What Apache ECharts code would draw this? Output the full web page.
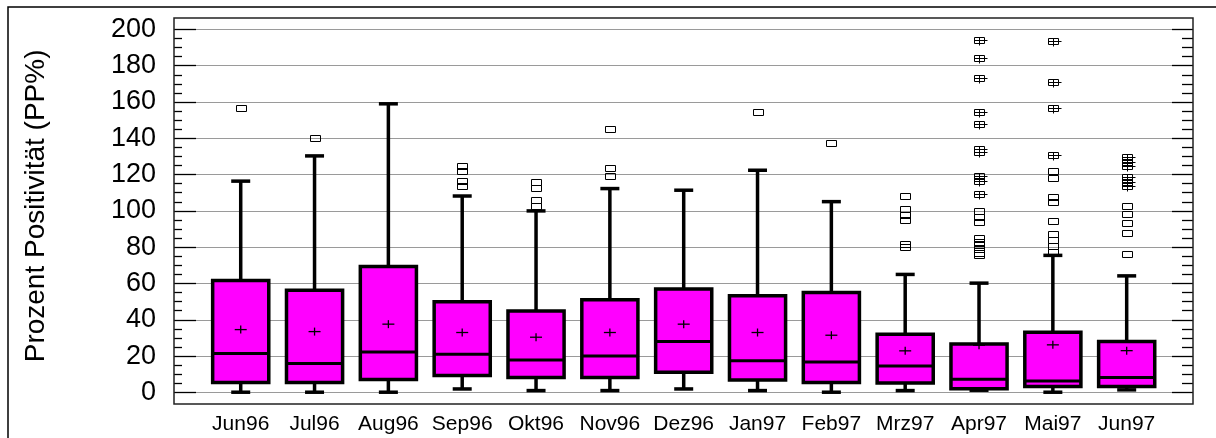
<!DOCTYPE html>
<html>
<head>
<meta charset="utf-8">
<script src="https://cdn.jsdelivr.net/npm/echarts@6/dist/echarts.min.js"></script>
<style>
  html, body { margin: 0; padding: 0; background: #fff; }
  #chart { width: 1216px; height: 438px; }
</style>
</head>
<body>
<div id="chart"></div>
<script>
// Monthly distribution of PP% values (box = quartiles, whiskers, + = mean)
const months = ['Jun96', 'Jul96', 'Aug96', 'Sep96', 'Okt96', 'Nov96', 'Dez96',
                'Jan97', 'Feb97', 'Mrz97', 'Apr97', 'Mai97', 'Jun97'];

const whiskerLow  = [0.1, 0.1, 0.1, 1.9, 1.0, 1.0, 1.9, 1.0, 0.1, 1.0, 1.2, 0.1, 1.4];
const lowerQuart  = [5.4, 5.4, 7.1, 9.3, 8.2, 8.2, 11.1, 6.9, 5.4, 5.2, 2.0, 3.2, 3.2];
const medianVal   = [21.4, 15.9, 22.3, 21.0, 17.9, 20.1, 28.0, 17.4, 16.8, 14.6, 7.2, 6.3, 8.2];
const upperQuart  = [61.6, 56.3, 69.3, 49.9, 44.9, 51.1, 57.0, 53.2, 55.0, 32.1, 26.6, 33.2, 28.0];
const whiskerHigh = [116.4, 130.3, 159.0, 108.2, 100.0, 112.3, 111.4, 122.4, 105.1, 65.0, 60.2, 75.5, 64.2];
const meanVal     = [34.6, 33.5, 37.6, 33.0, 30.4, 33.0, 37.6, 33.0, 31.5, 22.9, 26.0, 26.2, 23.0];

// Outliers beyond the whiskers
const outliers = [
  [156.5],
  [140.2],
  [],
  [124.5, 122.0, 116.5, 113.5],
  [116.0, 112.5, 106.0, 102.5],
  [145.0, 123.5, 119.5],
  [],
  [154.4],
  [137.3],
  [108.0, 101.0, 98.0, 95.0, 82.0, 80.0],
  [100.0, 96.5, 94.0, 85.0, 83.0, 81.0, 79.0, 77.0, 75.5],
  [122.0, 118.0, 107.5, 105.0, 94.5, 87.0, 84.0, 80.5, 77.5],
  [102.5, 98.5, 93.5, 88.0, 76.0]
];
// Extreme outliers (square with cross)
const farOutliers = [
  [], [], [], [], [], [], [], [], [], [],
  [194.0, 184.0, 173.0, 154.7, 147.8, 134.0, 132.5, 119.0, 116.5, 109.5],
  [193.5, 171.0, 156.5, 131.0],
  [129.5, 127.0, 125.0, 118.5, 116.0, 113.5]
];

const yMin = 0, yMax = 200, yStep = 20;
const axisTitle = 'Prozent Positivität (PP%)';
const FONT = '"Liberation Sans", Arial, Helvetica, sans-serif';

const boxData = months.map((m, i) =>
  [i, whiskerLow[i], lowerQuart[i], medianVal[i], upperQuart[i], whiskerHigh[i], meanVal[i]]);

const outlierData = [];
months.forEach((m, i) => {
  outliers[i].forEach(v => outlierData.push([i, v, 0]));
  farOutliers[i].forEach(v => outlierData.push([i, v, 1]));
});

const blk = { stroke: '#000', lineWidth: 3.5 };

function renderBox(params, api) {
  const i = api.value(0);
  const lo = api.coord([i, api.value(1)]);
  const b1 = api.coord([i, api.value(2)]);
  const md = api.coord([i, api.value(3)]);
  const b3 = api.coord([i, api.value(4)]);
  const hi = api.coord([i, api.value(5)]);
  const mn = api.coord([i, api.value(6)]);
  const band = api.size([1, 0])[0];
  const half = band * 0.76 / 2;
  const cap = 9.5;
  const x = lo[0];
  return {
    type: 'group',
    children: [
      { type: 'line', shape: { x1: x, y1: hi[1], x2: x, y2: b3[1] }, style: blk },
      { type: 'line', shape: { x1: x, y1: lo[1], x2: x, y2: b1[1] }, style: blk },
      { type: 'line', shape: { x1: x - cap, y1: hi[1], x2: x + cap, y2: hi[1] }, style: blk },
      { type: 'line', shape: { x1: x - cap, y1: lo[1], x2: x + cap, y2: lo[1] }, style: blk },
      { type: 'rect', shape: { x: x - half, y: b3[1], width: half * 2, height: b1[1] - b3[1] },
        style: { fill: '#ff00ff', stroke: '#000', lineWidth: 3.5 } },
      { type: 'line', shape: { x1: x - half, y1: md[1], x2: x + half + 1, y2: md[1] }, style: { stroke: '#000', lineWidth: 3 } },
      { type: 'line', shape: { x1: x - 6, y1: mn[1], x2: x + 6, y2: mn[1] }, style: { stroke: '#000', lineWidth: 1.3 } },
      { type: 'line', shape: { x1: x, y1: mn[1] - 4, x2: x, y2: mn[1] + 4 }, style: { stroke: '#000', lineWidth: 1.3 } }
    ]
  };
}

function renderOutlier(params, api) {
  const p = api.coord([api.value(0), api.value(1)]);
  const cx = Math.round(p[0]) + 0.5, cy = Math.round(p[1]) + 0.5;
  const thin = { stroke: '#000', lineWidth: 1, fill: null };
  const kids = [
    { type: 'rect', shape: { x: cx - 5, y: cy - 3, width: 10, height: 6 }, style: thin }
  ];
  if (api.value(2) === 1) {
    kids.push({ type: 'line', shape: { x1: cx, y1: cy - 3, x2: cx, y2: cy + 5 }, style: thin });
    kids.push({ type: 'line', shape: { x1: cx - 5, y1: cy, x2: cx + 8, y2: cy }, style: thin });
  }
  return { type: 'group', children: kids };
}

const chart = echarts.init(document.getElementById('chart'), null, { renderer: 'canvas' });

chart.setOption({
  animation: false,
  backgroundColor: '#fff',
  grid: [
    // scale grid: full frame width, spans 0..200
    { left: 174, width: 1019, top: 29.4, height: 363, containLabel: false },
    // data grid: inset horizontally
    { left: 203.8, width: 959.8, top: 29.4, height: 363, containLabel: false }
  ],
  xAxis: [
    { type: 'value', gridIndex: 0, show: false, min: 0, max: 1 },
    {
      type: 'category', gridIndex: 1, data: months, boundaryGap: true,
      axisLine: { show: false }, axisTick: { show: false }, splitLine: { show: false },
      axisLabel: { color: '#000', fontFamily: FONT, fontSize: 21, margin: 21, interval: 0 }
    }
  ],
  yAxis: [
    {
      type: 'value', gridIndex: 0, position: 'left', min: yMin, max: yMax, interval: yStep,
      name: axisTitle, nameLocation: 'middle', nameGap: 124, nameRotate: 90,
      nameTextStyle: { color: '#000', fontFamily: FONT, fontSize: 28, padding: [0, 0, 0, 10] },
      axisLine: { show: false },
      axisTick: { show: true, inside: true, length: 22, lineStyle: { color: '#000', width: 1.3 } },
      minorTick: { show: true, splitNumber: 4, length: 8, lineStyle: { color: '#000', width: 1.3 } },
      axisLabel: { color: '#000', fontFamily: FONT, fontSize: 27, margin: 18 },
      splitLine: { show: true, lineStyle: { color: '#9a9a9a', width: 1.2 } }
    },
    {
      type: 'value', gridIndex: 0, position: 'right', min: yMin, max: yMax, interval: yStep,
      axisLine: { show: false },
      axisTick: { show: true, inside: true, length: 21, lineStyle: { color: '#000', width: 1.3 } },
      minorTick: { show: true, splitNumber: 4, length: 11, lineStyle: { color: '#000', width: 1.3 } },
      axisLabel: { show: false },
      splitLine: { show: false }
    },
    {
      type: 'value', gridIndex: 1, min: yMin, max: yMax, interval: yStep, show: false
    }
  ],
  graphic: [
    { type: 'rect', silent: true, z: 100,
      shape: { x: 174, y: 18, width: 1019, height: 386 },
      style: { fill: null, stroke: '#222', lineWidth: 1.5 } },
    { type: 'rect', silent: true, z: 100,
      shape: { x: 8, y: 7, width: 1230, height: 450 },
      style: { fill: null, stroke: '#000', lineWidth: 1.5 } }
  ],
  series: [
    {
      type: 'custom', name: 'box', xAxisIndex: 1, yAxisIndex: 2,
      renderItem: renderBox, data: boxData, z: 5,
      encode: { x: 0, y: [1, 2, 3, 4, 5, 6] }
    },
    {
      type: 'custom', name: 'outlier', xAxisIndex: 1, yAxisIndex: 2,
      renderItem: renderOutlier, data: outlierData, z: 6,
      encode: { x: 0, y: 1 }
    }
  ]
});
</script>
</body>
</html>
